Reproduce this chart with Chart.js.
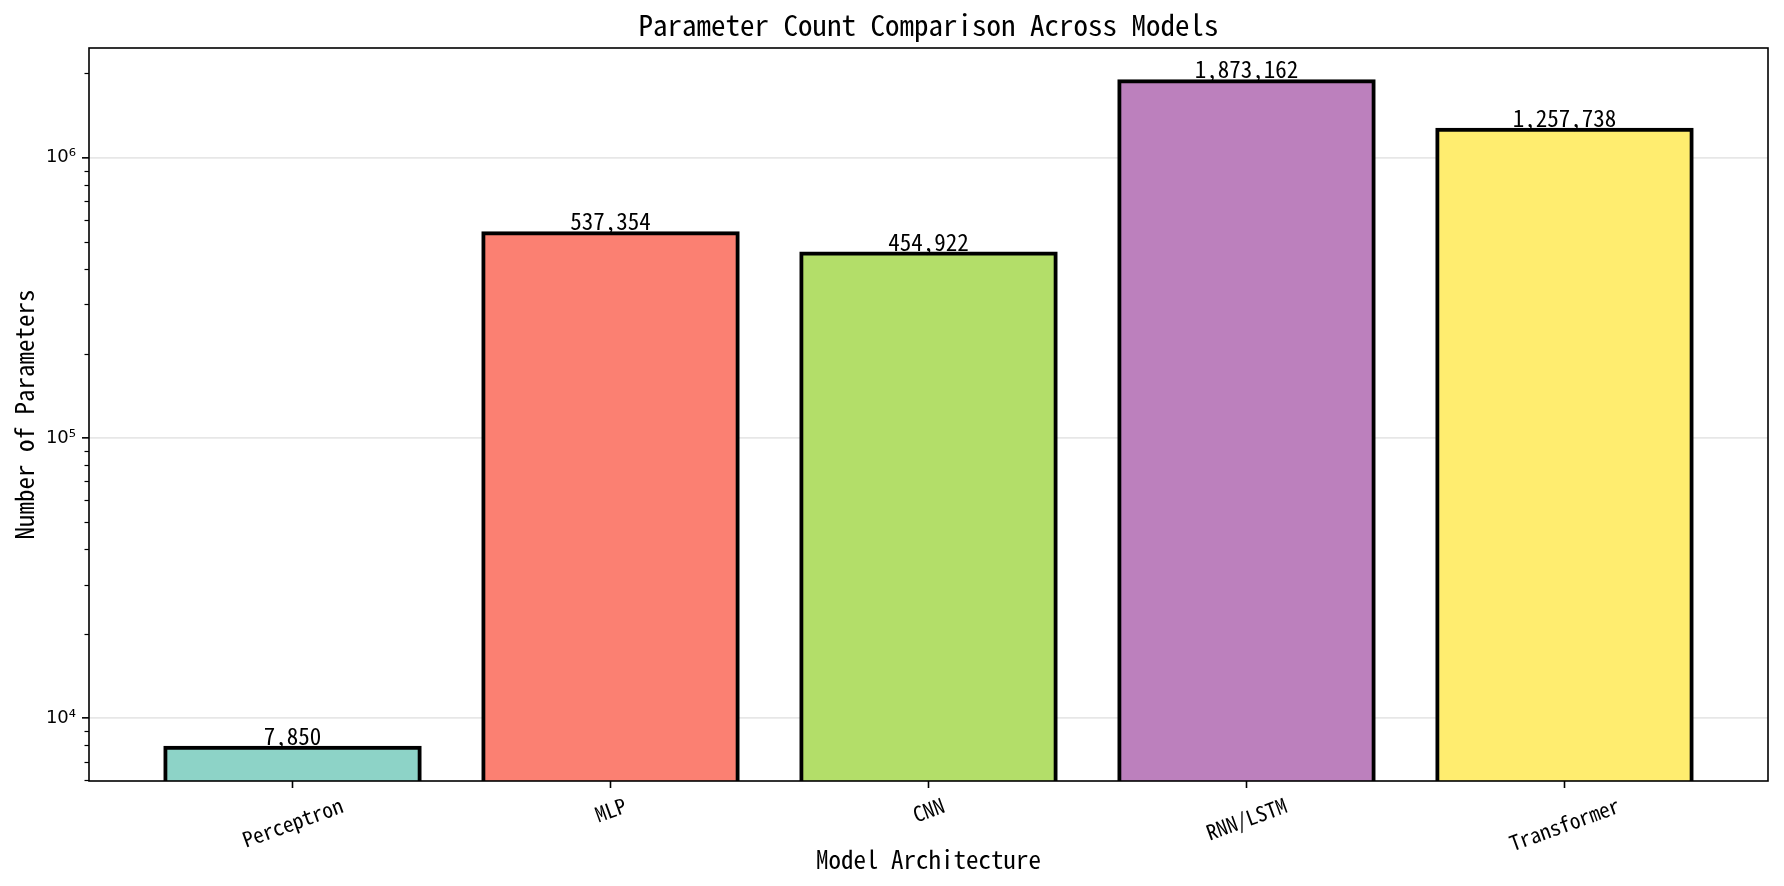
<!DOCTYPE html>
<html>
<head>
<meta charset="utf-8">
<script src="https://cdn.jsdelivr.net/npm/chart.js@4.4.1/dist/chart.umd.min.js"></script>
<style>
  html, body { margin: 0; padding: 0; background: #fff; }
</style>
</head>
<body>
<canvas id="chartParams" width="1784" height="886"></canvas>
<script>
const models = ["Perceptron", "MLP", "CNN", "RNN/LSTM", "Transformer"];
const paramCounts = [7850, 537354, 454922, 1873162, 1257738];
const barColors = ["#8dd3c7", "#fb8072", "#b3de69", "#bc80bd", "#ffed6f"];
const yMajorTicks = [1e4, 1e5, 1e6];
const yTickLabels = ["10⁴", "10⁵", "10⁶"];
const yMinorTicks = [6e3, 7e3, 8e3, 9e3,
  2e4, 3e4, 4e4, 5e4, 6e4, 7e4, 8e4, 9e4,
  2e5, 3e5, 4e5, 5e5, 6e5, 7e5, 8e5, 9e5, 2e6];

const textFont = '"Noto Sans Mono CJK SC", "Noto Sans CJK SC", monospace';

(() => {
  if (typeof Chart === "undefined") return;

  // matplotlib-style 5% margins on a log axis
  const lo = Math.log10(Math.min(...paramCounts));
  const hi = Math.log10(Math.max(...paramCounts));
  const pad = (hi - lo) * 0.05;
  const xPad = (models.length - 1 + 0.8) * 0.05;

  const decorations = {
    id: "decorations",
    afterDraw(chart) {
      const { ctx, chartArea: a, scales: { x, y } } = chart;
      ctx.save();

      // frame
      ctx.strokeStyle = "#000";
      ctx.lineWidth = 1.6;
      ctx.strokeRect(a.left, a.top, a.right - a.left, a.bottom - a.top);

      // minor ticks on y
      ctx.lineWidth = 1.2;
      yMinorTicks.forEach(v => {
        const py = Math.round(y.getPixelForValue(v)) + 0.5;
        ctx.beginPath();
        ctx.moveTo(a.left - 4.5, py);
        ctx.lineTo(a.left, py);
        ctx.stroke();
      });

      ctx.fillStyle = "#000";

      // value labels
      ctx.font = `23px ${textFont}`;
      ctx.textAlign = "center";
      ctx.textBaseline = "alphabetic";
      chart.getDatasetMeta(0).data.forEach((bar, i) => {
        ctx.fillText(paramCounts[i].toLocaleString("en-US"), bar.x, bar.y - 3);
      });

      // rotated category labels
      ctx.font = `21px ${textFont}`;
      const ang = 20 * Math.PI / 180;
      models.forEach((m, i) => {
        const px = x.getPixelForValue(i);
        const L = ctx.measureText(m).width;
        const boxH = L * Math.sin(ang) + 18 * Math.cos(ang);
        ctx.save();
        ctx.translate(px, a.bottom + 15 + boxH / 2);
        ctx.rotate(-ang);
        ctx.textBaseline = "middle";
        ctx.fillText(m, 0, 0);
        ctx.restore();
      });

      // titles
      const cx = (a.left + a.right) / 2;
      ctx.textBaseline = "middle";
      ctx.font = `29px ${textFont}`;
      ctx.fillText("Parameter Count Comparison Across Models", cx, 25);
      ctx.font = `25px ${textFont}`;
      ctx.fillText("Model Architecture", cx, 859);
      ctx.save();
      ctx.translate(24, (a.top + a.bottom) / 2);
      ctx.rotate(-Math.PI / 2);
      ctx.fillText("Number of Parameters", 0, 0);
      ctx.restore();

      ctx.restore();
    }
  };

  const canvas = document.getElementById("chartParams");

  new Chart(canvas, {
    type: "bar",
    data: {
      datasets: [
        {
          data: models.map((m, i) => ({ x: i, y: paramCounts[i] })),
          backgroundColor: barColors,
          borderColor: "#000",
          borderWidth: 4,
          borderSkipped: "start",
          inflateAmount: 2,
          categoryPercentage: 0.8,
          barPercentage: 1
        }
      ]
    },
    options: {
      responsive: false,
      animation: false,
      layout: { padding: { top: 48, right: 16, left: 0, bottom: 0 } },
      plugins: {
        legend: { display: false },
        tooltip: { enabled: false },
        title: { display: false }
      },
      scales: {
        x: {
          type: "linear",
          min: -0.4 - xPad,
          max: models.length - 0.6 + xPad,
          bounds: "data",
          offset: false,
          afterBuildTicks: s => { s.ticks = models.map((m, i) => ({ value: i })); },
          afterFit: s => { s.height = 105; },
          border: { display: false },
          grid: {
            offset: false,
            drawOnChartArea: false,
            drawTicks: true,
            tickLength: 7,
            tickColor: "#000",
            tickWidth: 1.6
          },
          ticks: { display: false }
        },
        y: {
          type: "logarithmic",
          min: Math.pow(10, lo - pad),
          max: Math.pow(10, hi + pad),
          bounds: "data",
          z: 1,
          afterBuildTicks: s => {
            s.ticks = yMajorTicks.map(v => ({ value: v, major: true }));
          },
          afterFit: s => { s.width = 89; },
          border: { display: false },
          grid: {
            color: "rgba(176, 176, 176, 0.3)",
            lineWidth: 1.7,
            tickLength: 7,
            tickColor: "#000",
            tickWidth: 1.6
          },
          ticks: {
            autoSkip: false,
            padding: 6,
            color: "#000",
            font: { family: "DejaVu Sans", size: 18 },
            callback: v => {
              const k = yMajorTicks.indexOf(v);
              return k >= 0 ? yTickLabels[k] : "";
            }
          }
        }
      }
    },
    plugins: [decorations]
  });
})();
</script>
</body>
</html>
